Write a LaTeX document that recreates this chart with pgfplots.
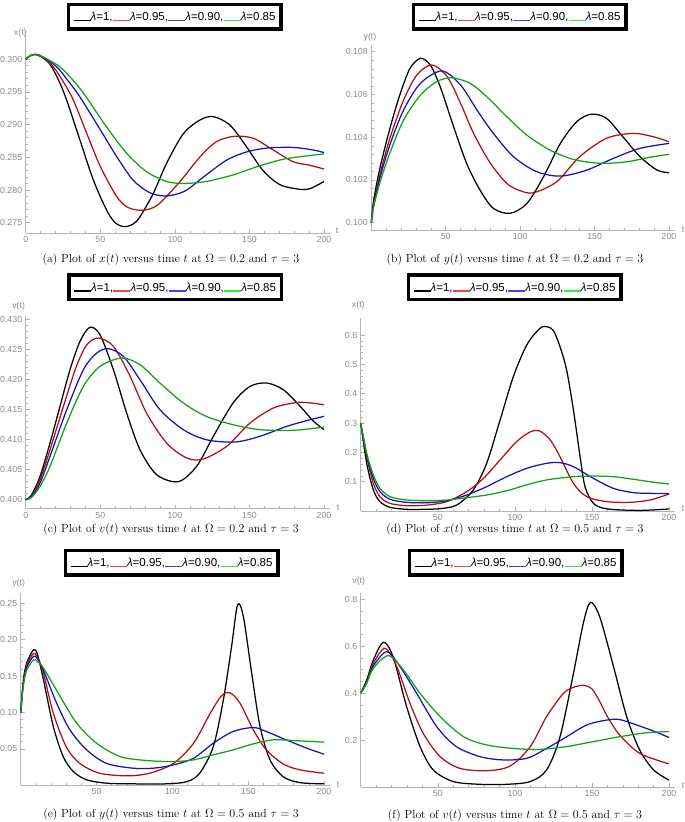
\documentclass[border=0pt]{standalone}
\usepackage{pgfplots}
\pgfplotsset{compat=1.18}
\usepackage{fontspec}
\newfontfamily\mma{Liberation Sans}

\definecolor{axgray}{HTML}{B4B4B4}
\definecolor{tickgray}{HTML}{8A8A8A}
\definecolor{cred}{HTML}{B01010}
\definecolor{cblue}{HTML}{1414B4}
\definecolor{cgreen}{HTML}{14A014}
\definecolor{lred}{HTML}{FF4040}
\definecolor{lblue}{HTML}{4040FF}
\definecolor{lgreen}{HTML}{30F030}

\pgfplotsset{
  mma/.style={
    scale only axis, anchor=south west,
    axis lines=left, axis line style={-, draw=axgray, line width=0.7pt},
    tick align=inside, major tick length=4pt, minor tick length=2.2pt,
    every tick/.style={draw=axgray, line width=0.5pt},
    tick label style={font=\mma\fontsize{8.8}{10}\selectfont, text=tickgray},
    /pgf/number format/assume math mode=true,
    scaled ticks=false, xmin=0, xmax=204,
    xtick={50,100,150,200}, minor xtick={10,20,...,200},
    clip=false,
    every axis plot/.append style={line width=1.25pt, smooth, mark=none},
  },
  y3/.style={yticklabel style={/pgf/number format/.cd, fixed, fixed zerofill, precision=3}},
  y2/.style={yticklabel style={/pgf/number format/.cd, fixed, fixed zerofill, precision=2}},
  y1/.style={yticklabel style={/pgf/number format/.cd, fixed, fixed zerofill, precision=1}},
}

\tikzset{
  lt/.style={anchor=base west, inner sep=0pt, font=\mma\fontsize{11.5}{13}\selectfont},
  ls/.style={line width=1.5pt},
  capt/.style={font=\fontsize{11.7}{13}\selectfont},
  lab/.style={font=\mma\fontsize{8.8}{10}\selectfont, text=tickgray, inner sep=0pt},
}
% legend box centred at (#1,#2)
\newcommand{\legat}[2]{%
  \draw[black, line width=3.5pt, fill=white] (#1-106.25,#2-12.25) rectangle (#1+106.25,#2+12.25);
  \draw[ls, black] (#1-101,#2-3.3) -- ++(17,0);
  \node[lt] (L1) at (#1-84,#2-4) {{\itshape λ}=1,};
  \draw[ls, lred] ([yshift=0.7pt]L1.base east) -- ++(17,0);
  \node[lt] (L2) at ([xshift=17pt]L1.base east) {{\itshape λ}=0.95,};
  \draw[ls, lblue] ([yshift=0.7pt]L2.base east) -- ++(17,0);
  \node[lt] (L3) at ([xshift=17pt]L2.base east) {{\itshape λ}=0.90,};
  \draw[ls, lgreen] ([yshift=0.7pt]L3.base east) -- ++(17,0);
  \node[lt] at ([xshift=17pt]L3.base east) {{\itshape λ}=0.85};
}

\begin{document}
\begin{tikzpicture}[x=1pt,y=1pt]
\path[use as bounding box] (0,0) rectangle (685,822);

% (a) x(t), Omega = 0.2
\begin{axis}[mma, y3, at={(25.7pt,588.8pt)}, width=304.3pt, height=202.3pt,
  ymin=0.2734, ymax=0.3043, xtick={0,50,100,150,200},
  ytick={0.275,0.280,0.285,0.290,0.295,0.300}, minor y tick num=4]
\addplot[black] coordinates {(0,0.3000) (3,0.3005) (6,0.3007) (10,0.3004) (16,0.2993) (22,0.2968) (27.5,0.2937) (36.4,0.2876) (45.4,0.2815) (54.3,0.2769) (60,0.2750) (66,0.2744) (72,0.2748) (76.6,0.2759) (85.6,0.2795) (94.5,0.2841) (105.7,0.2886) (116.9,0.2907) (125.8,0.2912) (137,0.2899) (148,0.2866) (159,0.2830) (170.5,0.2808) (184,0.2801) (190.6,0.2802) (200,0.2813)};
\addplot[cred] coordinates {(0,0.3000) (3,0.3005) (6,0.3007) (10,0.3005) (18.5,0.2988) (25,0.2966) (32,0.2937) (41,0.2886) (50,0.2836) (61,0.2790) (68,0.2774) (76,0.2769) (83,0.2771) (90,0.2780) (103.5,0.2813) (117,0.2851) (128,0.2874) (140,0.2882) (152.6,0.2879) (166,0.2861) (179.4,0.2843) (190,0.2838) (200,0.2832)};
\addplot[cblue] coordinates {(0,0.3000) (3,0.3005) (6,0.3007) (10,0.3005) (20.8,0.2988) (28,0.2968) (36.4,0.2942) (50,0.2892) (61,0.2851) (72,0.2815) (83,0.2796) (92,0.2791) (100,0.2793) (108,0.2800) (121,0.2823) (135,0.2846) (148,0.2858) (161.6,0.2864) (179,0.2865) (193,0.2861) (200,0.2857)};
\addplot[cgreen] coordinates {(0,0.3000) (3,0.3005) (6,0.3007) (10,0.3005) (16,0.2998) (23,0.2988) (30,0.2972) (38.7,0.2948) (54,0.2897) (67.7,0.2856) (81,0.2828) (94.5,0.2813) (106,0.2810) (121,0.2813) (139,0.2823) (157,0.2837) (175,0.2848) (200,0.2855)};
\end{axis}

% (b) y(t), Omega = 0.2
\begin{axis}[mma, y3, at={(371.3pt,592pt)}, width=303.7pt, height=184.7pt,
  ymin=0.09966, ymax=0.1083,
  ytick={0.100,0.102,0.104,0.106,0.108}, minor y tick num=4]
\addplot[black] coordinates {(0,0.1000) (1.6,0.10106) (6,0.10262) (12.8,0.10449) (19.5,0.10605) (26,0.10722) (33,0.10769) (39.6,0.10738) (46.3,0.10636) (55.3,0.10449) (64,0.10278) (73,0.10153) (82,0.10067) (93.3,0.10044) (104.5,0.10090) (115.7,0.10215) (127,0.10371) (138,0.10473) (148,0.10508) (158,0.10488) (169,0.10402) (180.5,0.10309) (192,0.10246) (200,0.10234)};
\addplot[cred] coordinates {(0,0.1000) (1.6,0.10090) (6,0.10231) (12.8,0.10402) (21.7,0.10574) (30.6,0.10691) (40.7,0.10738) (51,0.10683) (60,0.10558) (68.7,0.10418) (80,0.10278) (91,0.10184) (100,0.10150) (109,0.10140) (124.6,0.10192) (140,0.10309) (158,0.10395) (176,0.10418) (189.5,0.10402) (200,0.10379)};
\addplot[cblue] coordinates {(0,0.1000) (1.6,0.10083) (6,0.10215) (12.8,0.10371) (21.7,0.10527) (33,0.10652) (47.4,0.10710) (60,0.10644) (71,0.10527) (82,0.10418) (95.5,0.10309) (111,0.10239) (127,0.10218) (144.7,0.10246) (162.6,0.10301) (180.5,0.10348) (200,0.10371)};
\addplot[cgreen] coordinates {(0,0.1000) (1.6,0.10075) (6,0.10192) (12.8,0.10332) (21.7,0.10480) (33,0.10597) (44,0.10660) (54,0.10678) (66.4,0.10652) (77.6,0.10589) (91,0.10496) (104.5,0.10410) (120,0.10340) (135.8,0.10296) (153.7,0.10278) (171.6,0.10285) (187,0.10306) (200,0.10320)};
\end{axis}

% (c) v(t), Omega = 0.2
\begin{axis}[mma, y3, at={(25.7pt,313.3pt)}, width=304.3pt, height=192.3pt,
  ymin=0.3985, ymax=0.43055, xtick={0,50,100,150,200},
  ytick={0.400,0.405,0.410,0.415,0.420,0.425,0.430}, minor y tick num=4]
\addplot[black] coordinates {(0,0.4000) (4,0.40083) (9.6,0.40389) (16.3,0.40944) (23,0.41556) (29.7,0.42167) (36.4,0.42639) (43,0.42872) (49.8,0.42750) (58.8,0.42167) (67.7,0.41444) (76.6,0.40833) (87.8,0.40417) (102.3,0.40300) (114.6,0.40556) (125.8,0.41056) (139,0.41611) (150.4,0.41889) (161.6,0.41944) (172.7,0.41833) (184,0.41556) (193,0.41306) (200,0.41167)};
\addplot[cred] coordinates {(0,0.4000) (4,0.40067) (9.6,0.40333) (16.3,0.40833) (25.3,0.41556) (34,0.42222) (41,0.42583) (48.7,0.42694) (58.8,0.42556) (70,0.42056) (81,0.41444) (94.5,0.40944) (108,0.40694) (119,0.40678) (134.7,0.40889) (150.4,0.41278) (166,0.41528) (179.4,0.41611) (187,0.41622) (200,0.41583)};
\addplot[cblue] coordinates {(0,0.4000) (4,0.40056) (9.6,0.40278) (16.3,0.40722) (27.5,0.41500) (38.7,0.42167) (47.6,0.42444) (55.4,0.42517) (65.5,0.42389) (76.6,0.42000) (90,0.41500) (105.7,0.41167) (121,0.41000) (140.3,0.40961) (157,0.41056) (175,0.41222) (190.6,0.41333) (200,0.41389)};
\addplot[cgreen] coordinates {(0,0.4000) (4,0.40039) (9.6,0.40222) (16.3,0.40556) (27.5,0.41278) (38.7,0.41889) (49.8,0.42222) (64.4,0.42361) (76.6,0.42250) (90,0.41944) (105.7,0.41611) (121,0.41389) (139,0.41250) (157,0.41167) (179.4,0.41156) (200,0.41211)};
\end{axis}

% (d) x(t), Omega = 0.5
\begin{axis}[mma, y1, at={(360.7pt,311pt)}, width=314.5pt, height=192.7pt,
  ymin=0, ymax=0.657,
  ytick={0.1,0.2,0.3,0.4,0.5,0.6}, minor y tick num=4]
\addplot[black] coordinates {(0,0.300) (3.9,0.1625) (8.2,0.0716) (12.5,0.0318) (19,0.0125) (29.8,0.0057) (40.6,0.0057) (51.5,0.008) (62.3,0.0205) (73,0.0716) (81.7,0.1625) (90.4,0.310) (99,0.458) (107.7,0.566) (116.3,0.623) (121,0.628) (125,0.615) (129.3,0.560) (133.6,0.480) (138,0.344) (142.3,0.185) (145.5,0.083) (151,0.026) (160,0.0070) (181,0.002) (200,0.007)};
\addplot[cred] coordinates {(0,0.300) (3.9,0.185) (8.2,0.094) (12.5,0.049) (19,0.026) (29.8,0.018) (43,0.020) (56,0.032) (68.8,0.066) (79.6,0.111) (90.4,0.174) (101,0.236) (110,0.270) (116,0.273) (123,0.242) (129.3,0.185) (138,0.094) (146.6,0.049) (159.6,0.032) (174.7,0.0295) (187.7,0.0375) (200,0.058)};
\addplot[cblue] coordinates {(0,0.300) (3.9,0.191) (8.2,0.111) (12.5,0.066) (19,0.040) (29.8,0.0295) (43,0.028) (56,0.035) (68.8,0.0545) (81.7,0.083) (94.7,0.117) (107.7,0.1455) (120.6,0.1625) (129.3,0.1648) (138,0.151) (151,0.111) (164,0.077) (177,0.0625) (190,0.060) (200,0.060)};
\addplot[cgreen] coordinates {(0,0.300) (3.9,0.197) (8.2,0.123) (12.5,0.077) (19,0.049) (29.8,0.0375) (43,0.035) (56,0.0375) (68.8,0.0455) (81.7,0.0545) (94.7,0.069) (107.7,0.089) (120.6,0.106) (138,0.117) (151,0.119) (164,0.117) (177,0.108) (190,0.098) (200,0.092)};
\end{axis}

% (e) y(t), Omega = 0.5
\begin{axis}[mma, y2, at={(20.7pt,36.7pt)}, width=309.4pt, height=192pt,
  ymin=0, ymax=0.2636,
  ytick={0.05,0.10,0.15,0.20,0.25}, minor y tick num=4]
\addplot[black] coordinates {(0,0.100) (1.8,0.145) (4,0.168) (8.4,0.186) (11,0.180) (15,0.145) (21.5,0.0807) (28,0.0395) (34.7,0.0189) (43.5,0.0075) (56.7,0.0029) (74,0.002) (96,0.002) (109.5,0.005) (118,0.0166) (127,0.0532) (133.6,0.117) (139,0.190) (143,0.2477) (146.8,0.2317) (152.3,0.154) (157.8,0.0807) (164.4,0.0349) (173,0.0119) (184,0.0037) (200,0.002)};
\addplot[cred] coordinates {(0,0.100) (1.8,0.142) (4,0.165) (8.4,0.181) (11,0.176) (15,0.154) (21.5,0.099) (30,0.053) (39,0.030) (52,0.0166) (70,0.013) (85,0.0166) (100.7,0.030) (114,0.0578) (125,0.099) (132.5,0.123) (138,0.127) (144.6,0.1127) (153.4,0.076) (162,0.0486) (173,0.0294) (184,0.0212) (200,0.0166)};
\addplot[cblue] coordinates {(0,0.100) (1.8,0.140) (4,0.162) (8.4,0.177) (11,0.174) (15,0.158) (23.7,0.1127) (32.5,0.076) (43.5,0.0486) (56.7,0.030) (74,0.0235) (87.5,0.0235) (100.7,0.028) (114,0.0372) (127,0.0578) (140,0.0738) (153.4,0.0793) (162,0.0738) (175,0.0624) (188.6,0.051) (200,0.0427)};
\addplot[cgreen] coordinates {(0,0.100) (1.8,0.138) (4,0.158) (8.4,0.172) (11,0.170) (15,0.161) (26,0.122) (37,0.085) (50,0.0578) (65.5,0.0395) (83,0.034) (100.7,0.0326) (114,0.0349) (127,0.0418) (140,0.0486) (153.4,0.0569) (166.6,0.0624) (180,0.0614) (193,0.060) (200,0.0592)};
\end{axis}

% (f) v(t), Omega = 0.5
\begin{axis}[mma, y1, at={(360.7pt,35.1pt)}, width=314.5pt, height=193.6pt,
  ymin=0, ymax=0.8256,
  ytick={0.2,0.4,0.6,0.8}, minor y tick num=3]
\addplot[black] coordinates {(0,0.400) (3.9,0.456) (8.2,0.541) (14.7,0.6166) (21,0.555) (29.8,0.342) (38.5,0.172) (47,0.0725) (60,0.0228) (77.4,0.011) (94.7,0.011) (110,0.0228) (120.6,0.0725) (129.3,0.214) (138,0.484) (144.4,0.698) (149,0.787) (155,0.726) (164,0.513) (172.5,0.30) (181,0.157) (190,0.0725) (200,0.029)};
\addplot[cred] coordinates {(0,0.400) (3.9,0.449) (8.2,0.527) (15.8,0.591) (23.4,0.513) (32,0.356) (40.6,0.228) (51.5,0.129) (64.4,0.079) (81.7,0.069) (96.9,0.089) (110,0.172) (120.6,0.300) (131.5,0.399) (139,0.427) (145,0.433) (150,0.418) (155,0.365) (160,0.300) (168,0.221) (181,0.143) (200,0.098)};
\addplot[cblue] coordinates {(0,0.400) (3.9,0.445) (8.2,0.516) (17,0.577) (25.5,0.513) (36.3,0.399) (49.3,0.257) (62,0.172) (77.4,0.129) (92.5,0.115) (107.7,0.122) (120.6,0.164) (133.6,0.214) (146.6,0.264) (159.6,0.285) (168,0.287) (179,0.264) (190,0.238) (200,0.211)};
\addplot[cgreen] coordinates {(0,0.400) (3.9,0.442) (8.2,0.506) (18,0.560) (27.7,0.499) (38.5,0.399) (51.5,0.300) (66.7,0.214) (81.7,0.179) (99,0.164) (116.3,0.160) (133.6,0.172) (150.9,0.193) (168,0.214) (185.5,0.231) (200,0.236)};
\end{axis}

% legends
\legat{174.5}{805}
\legat{519.5}{805}
\legat{175}{534.5}
\legat{514.5}{534.5}
\legat{171.5}{259}
\legat{515.5}{259}

% axis names
\node[lab] at (20.3,789) {x(t)};
\node[lab] at (370,785) {y(t)};
\node[lab] at (18.7,515.3) {v(t)};
\node[lab] at (358.3,517) {x(t)};
\node[lab] at (18.7,238.7) {y(t)};
\node[lab] at (358.7,240.3) {v(t)};
\node[lab] at (337,591) {t};
\node[lab] at (683,592.5) {t};
\node[lab] at (338,314) {t};
\node[lab] at (683,313.5) {t};
\node[lab] at (338,37) {t};
\node[lab] at (683,36) {t};

% captions
\node[capt] at (171,562) {(a) Plot of $x(t)$ versus time $t$ at $\Omega = 0.2$ and $\tau = 3$};
\node[capt] at (515,562) {(b) Plot of $y(t)$ versus time $t$ at $\Omega = 0.2$ and $\tau = 3$};
\node[capt] at (171,292) {(c) Plot of $v(t)$ versus time $t$ at $\Omega = 0.2$ and $\tau = 3$};
\node[capt] at (515,292) {(d) Plot of $x(t)$ versus time $t$ at $\Omega = 0.5$ and $\tau = 3$};
\node[capt] at (171,7.5) {(e) Plot of $y(t)$ versus time $t$ at $\Omega = 0.5$ and $\tau = 3$};
\node[capt] at (515,6.5) {(f) Plot of $v(t)$ versus time $t$ at $\Omega = 0.5$ and $\tau = 3$};
\end{tikzpicture}
\end{document}
